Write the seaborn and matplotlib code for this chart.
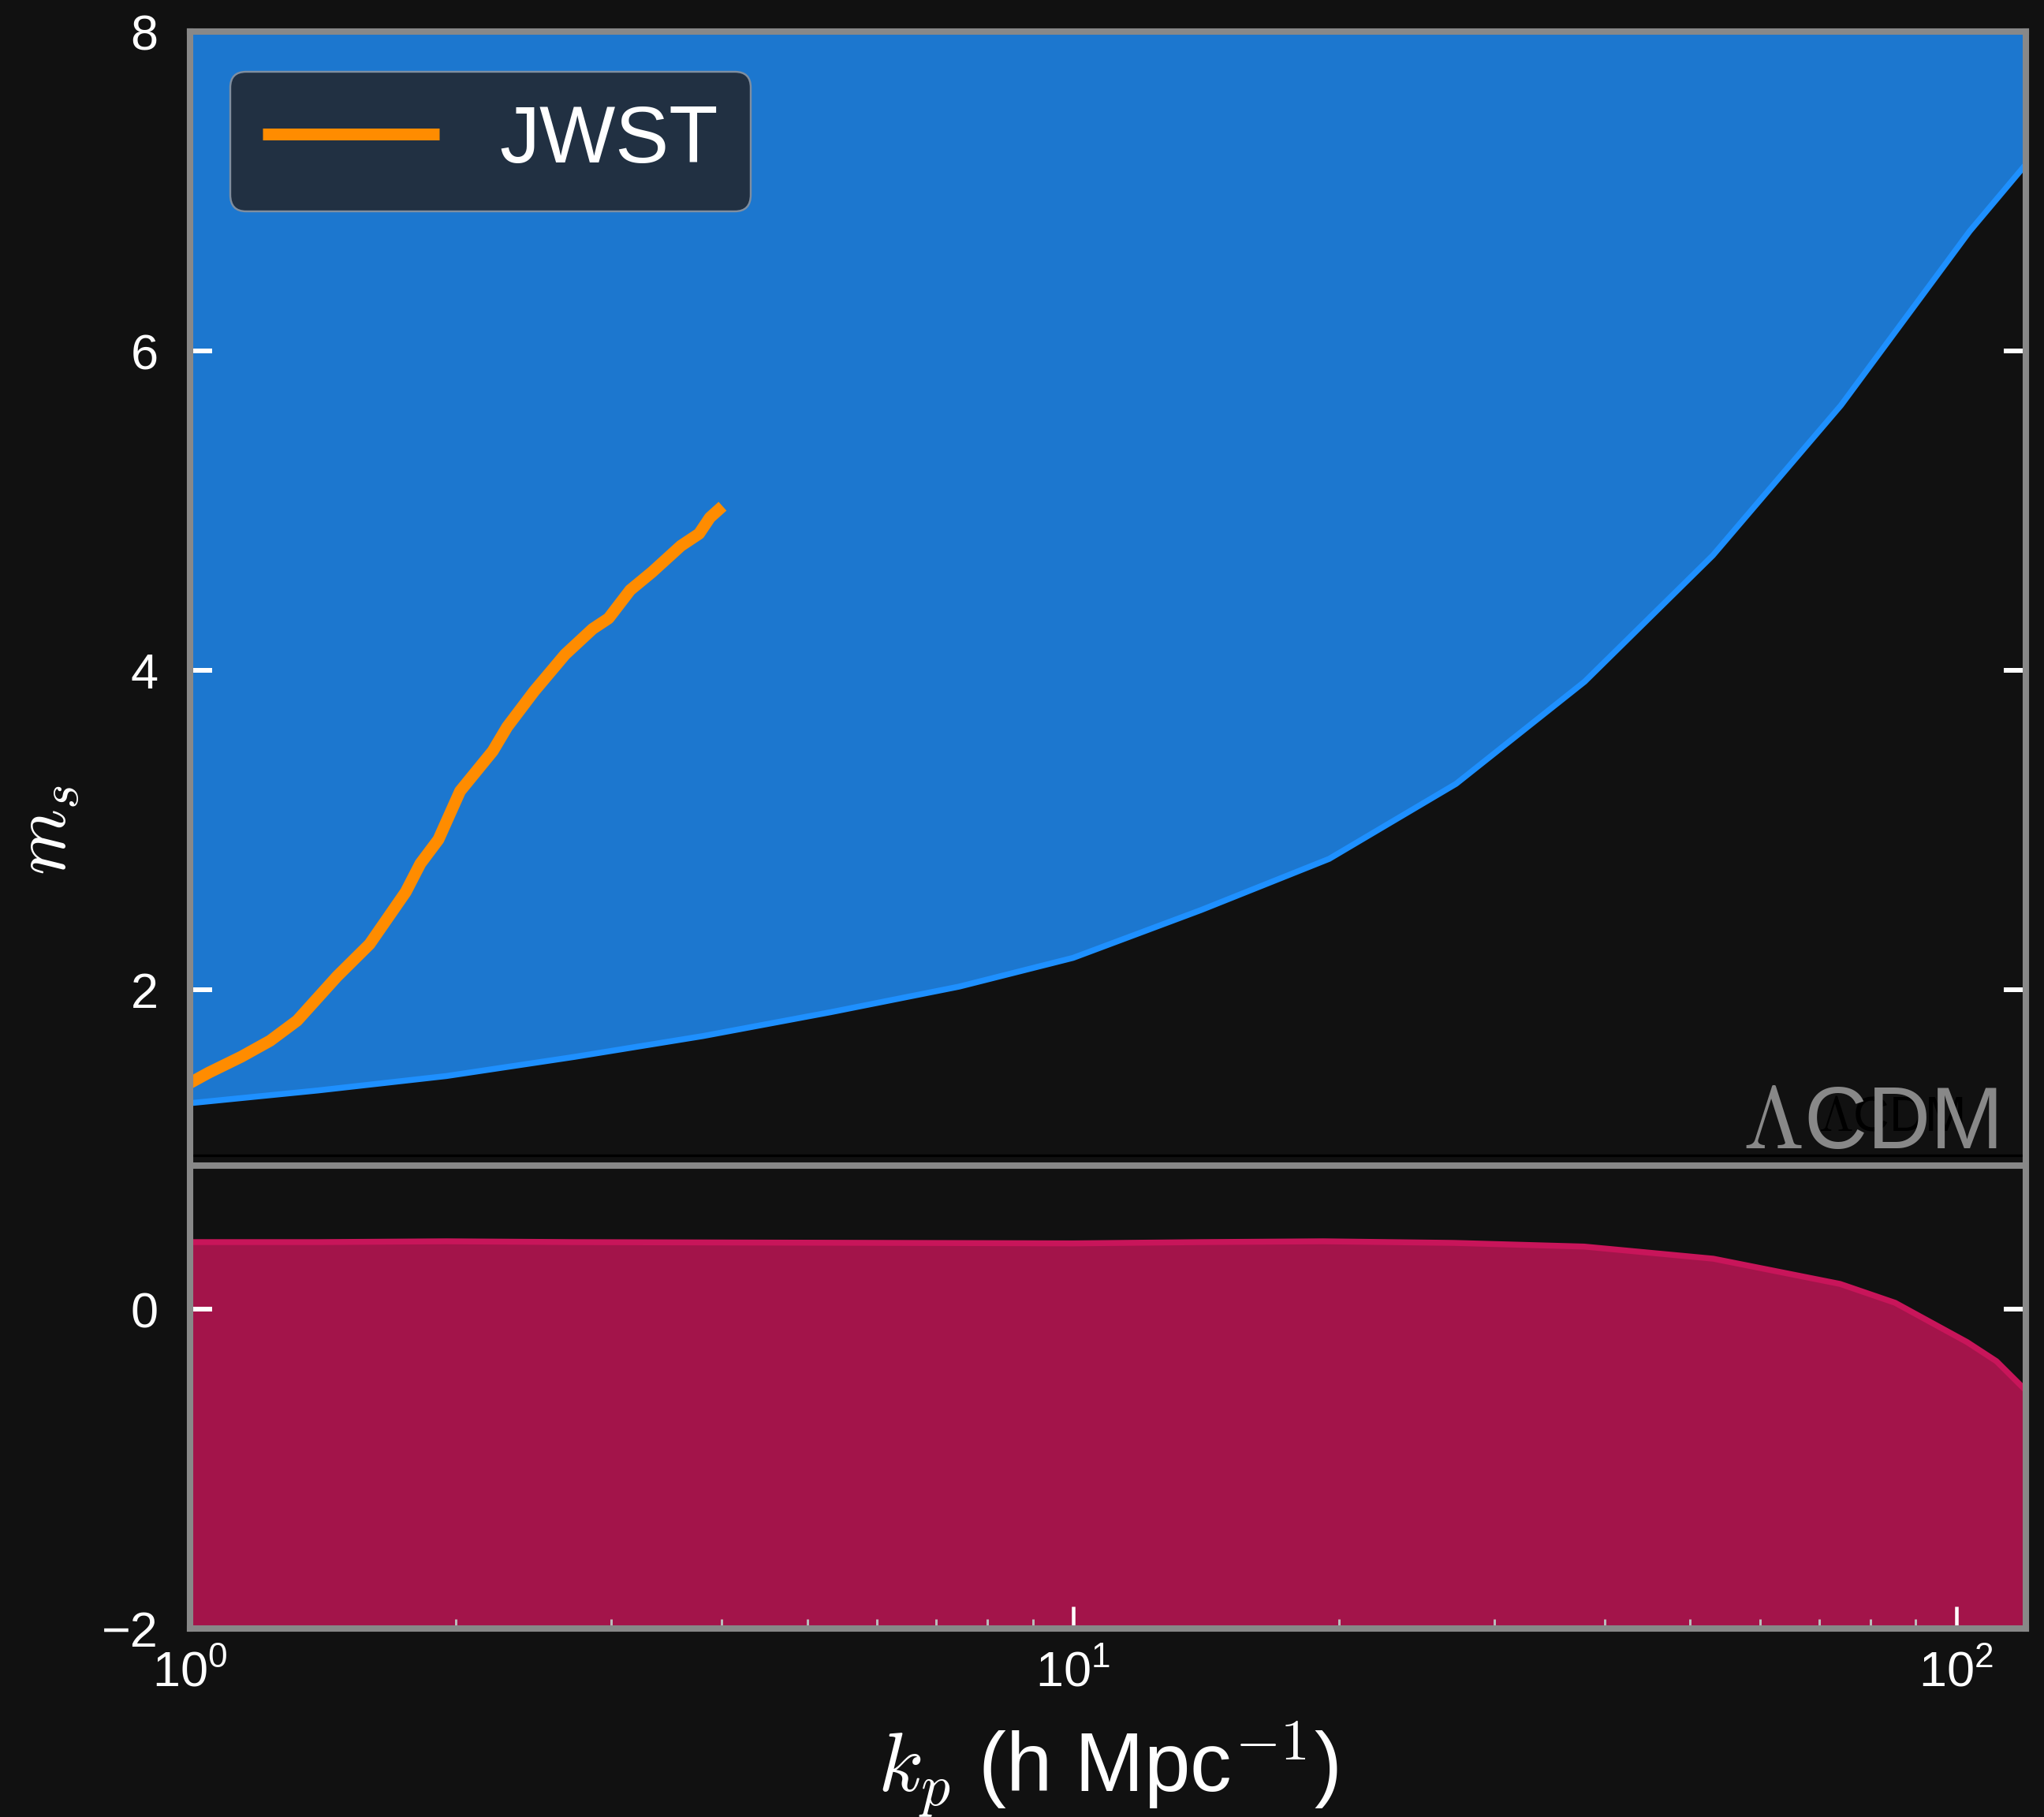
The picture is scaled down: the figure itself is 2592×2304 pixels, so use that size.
import numpy as np
import matplotlib
matplotlib.use("Agg")
import matplotlib.pyplot as plt
from matplotlib.lines import Line2D
import seaborn as sns

# =======================
# Data
# =======================
# lower edge of the allowed (blue) region
k_blue = [1.0, 1.397, 1.951, 2.725, 3.806, 5.316, 7.43, 10.0, 13.97, 19.5,
          27.15, 37.97, 53.03, 74.07, 103.6, 120.0]
ms_blue = [1.29, 1.37, 1.46, 1.58, 1.71, 1.86, 2.02, 2.20, 2.50, 2.82,
           3.29, 3.93, 4.72, 5.66, 6.75, 7.17]

# lower (crimson) band upper edge
k_red = [1.0, 1.397, 1.951, 2.725, 3.806, 5.316, 7.43, 10.0, 13.97, 19.2,
         27.0, 37.9, 53.1, 73.9, 85.3, 102.9, 111.1, 120.0]
ms_red = [0.42, 0.42, 0.425, 0.42, 0.418, 0.416, 0.414, 0.412, 0.42, 0.425,
          0.415, 0.392, 0.316, 0.158, 0.04, -0.206, -0.326, -0.51]

# JWST curve
k_jwst = [1.0, 1.049, 1.143, 1.232, 1.322, 1.467, 1.597, 1.755, 1.823, 1.911,
          2.022, 2.202, 2.286, 2.453, 2.659, 2.857, 2.978, 3.151, 3.336, 3.596,
          3.771, 3.879, 4.009]
ms_jwst = [1.417, 1.48, 1.581, 1.681, 1.807, 2.084, 2.286, 2.613, 2.790, 2.941,
           3.244, 3.495, 3.646, 3.87, 4.100, 4.26, 4.326, 4.503, 4.616, 4.780,
           4.856, 4.957, 5.028]

xticks = [1, 10, 100]
xticklabels = [r"$\mathregular{10^{0}}$", r"$\mathregular{10^{1}}$", r"$\mathregular{10^{2}}$"]
yticks = [-2, 0, 2, 4, 6, 8]
yticklabels = ["\u22122", "0", "2", "4", "6", "8"]

BG = "#111111"
BLUE_FILL = "#1c77cf"
BLUE_LINE = "#1e90ff"
RED_FILL = "#a3144a"
RED_LINE = "#c8155a"
ORANGE = "#ff8c00"
GREY = "#888888"

# =======================
# Style
# =======================
sns.set_theme(style="dark")
plt.rcParams["font.family"] = ["Liberation Sans", "DejaVu Sans"]
plt.rcParams["mathtext.fontset"] = "cm"
plt.rcParams["figure.facecolor"] = BG
plt.rcParams["axes.facecolor"] = BG

fig = plt.figure(figsize=(12, 10.6667), dpi=216)
ax = fig.add_axes([0.093, 0.1037, 0.8982, 0.8789])
ax.set_axisbelow(False)
ax.set_xscale("log")
ax.set_xlim(1, 120)
ax.set_ylim(-2, 8)

# blue region above its lower edge
ax.fill_between(k_blue, ms_blue, 8, color=BLUE_FILL, lw=0, zorder=1)
sns.lineplot(x=k_blue, y=ms_blue, ax=ax, color=BLUE_LINE, lw=2.5, zorder=2)

# crimson band
ax.fill_between(k_red, -2, ms_red, color=RED_FILL, lw=0, zorder=1)
sns.lineplot(x=k_red, y=ms_red, ax=ax, color=RED_LINE, lw=2.5, zorder=2)

# separators
ax.axhline(0.963, color="black", lw=1.1, zorder=2.2)
ax.axhline(0.90, color=GREY, lw=2.7, zorder=2.2)

# JWST
sns.lineplot(x=k_jwst, y=ms_jwst, ax=ax, color=ORANGE, lw=5, zorder=4,
             solid_capstyle="butt")

# LCDM labels (the reference has a small dark copy behind the grey one)
ax.text(0.966, 1.12, r"$\Lambda$CDM", transform=ax.get_yaxis_transform(),
        ha="right", va="baseline", fontsize=21, color="black", zorder=5)
ax.text(0.9845, 1.01, r"$\Lambda$CDM", transform=ax.get_yaxis_transform(),
        ha="right", va="baseline", fontsize=37, color=GREY, zorder=5)

# legend
handles = [Line2D([0], [0], color=ORANGE, lw=5, solid_capstyle="butt", label="JWST")]
leg = ax.legend(handles=handles, loc="upper left", fontsize=34, handlelength=2.2,
                handletextpad=0.75, borderpad=0.4, borderaxespad=0.5,
                fancybox=True, framealpha=1.0, facecolor="#213042",
                edgecolor="#7f8ea0")
leg.get_frame().set_linewidth(0.8)
for t in leg.get_texts():
    t.set_color("white")
leg.set_zorder(10)

# axes styling
for s in ax.spines.values():
    s.set_visible(True)
    s.set_color(GREY)
    s.set_linewidth(2.7)
    s.set_zorder(6)

ax.set_xticks(xticks)
ax.set_xticklabels(xticklabels)
ax.set_yticks(yticks)
ax.set_yticklabels(yticklabels)
ax.tick_params(axis="y", which="major", direction="in", length=9.3, width=2,
               color="white", left=True, right=True, labelsize=21, pad=13.5,
               labelcolor="white")
ax.tick_params(axis="x", which="major", direction="in", length=9.3, width=1.5,
               color="white", bottom=True, top=False, labelsize=21, pad=9,
               labelcolor="white")
ax.tick_params(axis="x", which="minor", direction="in", length=4, width=1,
               color="#bbbbbb", bottom=True, top=False)
ax.grid(False)

ax.set_xlabel(r"$k_p$ (h Mpc$^{-1}$)", fontsize=35, color="white", labelpad=10)
ax.set_ylabel(r"$m_s$", fontsize=32, color="white")
ax.yaxis.set_label_coords(-0.059, 0.5)

fig.savefig("out.png", dpi=216, facecolor=BG)
